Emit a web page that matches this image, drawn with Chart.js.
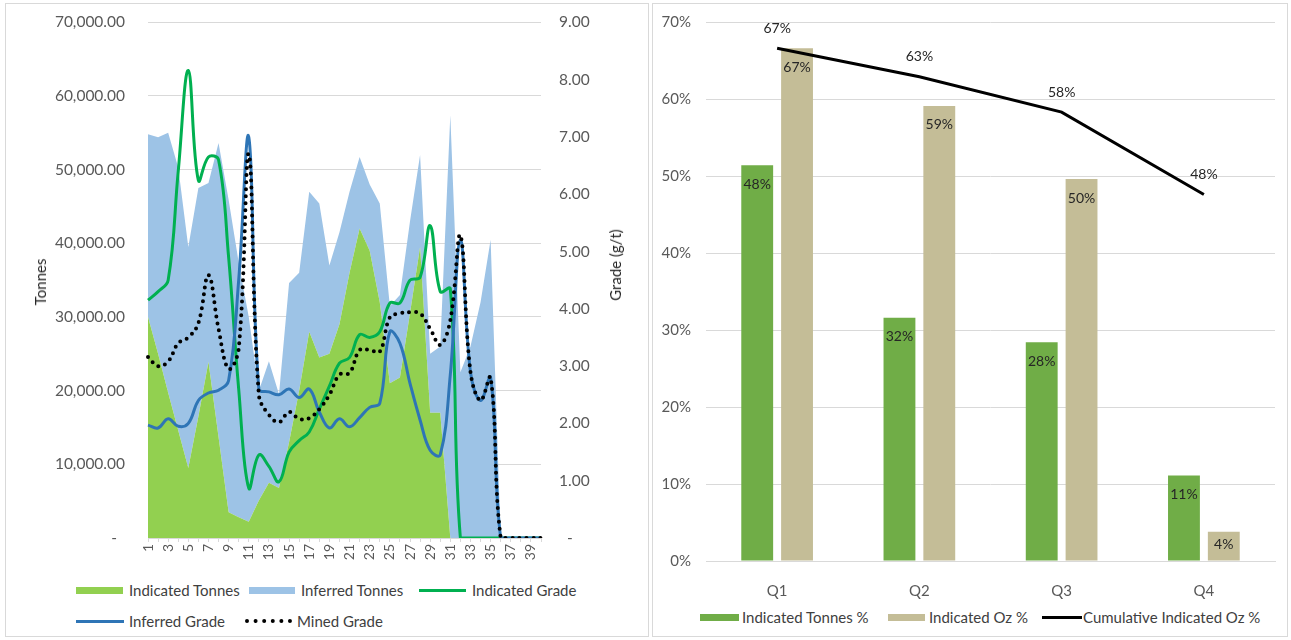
<!DOCTYPE html>
<html>
<head>
<meta charset="utf-8">
<script src="https://cdn.jsdelivr.net/npm/chart.js@4.4.1/dist/chart.umd.min.js"></script>
<style>
  body { margin: 0; background: #fff; font-family: Lato, sans-serif; overflow: hidden; }
  .panel { position: absolute; top: 3px; height: 634px; border: 1px solid #d9d9d9; box-sizing: border-box; background: #fff; }
  canvas { position: absolute; }
  .axis-title { position: absolute; font-size: 15px; color: #262626; white-space: nowrap; transform: translate(-50%, -50%) rotate(-90deg); }
  .leg { position: absolute; font-size: 15px; color: #404040; white-space: nowrap; line-height: 18px; }
  .sw { position: absolute; }
</style>
</head>
<body>
<div class="panel" style="left:5px; width:644px;"></div>
<div class="panel" style="left:652px; width:636px;"></div>

<!-- canvases start above the panels so the plot tops land where the reference has them -->
<canvas id="leftChart" style="left:5px; top:-10px; width:643px; height:583px;" width="643" height="583"></canvas>
<canvas id="rightChart" style="left:652px; top:-2px; width:636px; height:605px;" width="636" height="605"></canvas>

<div class="axis-title" style="left:40px; top:282px;">Tonnes</div>
<div class="axis-title" style="left:615px; top:265px;">Grade (g/t)</div>

<!-- left legend -->
<div class="sw" style="left:76px; top:587px; width:47px; height:7px; background:#92D050;"></div>
<div class="leg" style="left:129px; top:581px;">Indicated Tonnes</div>
<div class="sw" style="left:249px; top:587px; width:46px; height:7px; background:#9DC3E6;"></div>
<div class="leg" style="left:301px; top:581px;">Inferred Tonnes</div>
<div class="sw" style="left:419px; top:589px; width:47px; height:3px; background:#00B050;"></div>
<div class="leg" style="left:472px; top:581px;">Indicated Grade</div>
<div class="sw" style="left:76px; top:620px; width:48px; height:3px; background:#2E75B6;"></div>
<div class="leg" style="left:129px; top:612px;">Inferred Grade</div>
<div class="sw" style="left:245px; top:619px; width:47px; height:0; border-top:4px dotted #000;"></div>
<div class="leg" style="left:297px; top:612px;">Mined Grade</div>

<!-- right legend -->
<div class="sw" style="left:700px; top:614px; width:39px; height:7px; background:#70AD47;"></div>
<div class="leg" style="left:742px; top:608px;">Indicated Tonnes %</div>
<div class="sw" style="left:888px; top:614px; width:37px; height:7px; background:#C4BD97;"></div>
<div class="leg" style="left:929px; top:608px;">Indicated Oz %</div>
<div class="sw" style="left:1042px; top:616px; width:40px; height:3px; background:#000;"></div>
<div class="leg" style="left:1083px; top:608px;">Cumulative Indicated Oz %</div>

<script>
// ---- left chart data (tonnes and grade by period) ----
const periods = ['1','2','3','4','5','6','7','8','9','10','11','12','13','14','15','16','17','18','19','20',
                 '21','22','23','24','25','26','27','28','29','30','31','32','33','34','35','36','37','38','39','40'];

const indicatedTonnes = [30000, 25000, 19700, 14600, 9500, 16500, 23900, 13700, 3500, 2800,
                         2200, 5100, 7500, 6800, 13000, 20000, 28000, 24500, 25000, 29000,
                         36000, 42000, 39000, 32000, 21000, 21800, 30500, 39500, 17000, 17000,
                         0, 0, 0, 0, 0, 0, 0, 0, 0, 0];

const inferredTonnes = [24800, 29400, 35300, 35700, 30000, 31000, 24300, 39900, 42400, 34600,
                        27800, 14900, 16500, 12700, 21600, 16000, 19000, 20900, 12000, 12500,
                        11000, 9700, 9000, 13400, 10500, 11200, 12500, 12500, 8000, 9000,
                        57400, 22500, 26000, 32000, 40500, 0, 0, 0, 0, 0];

const indicatedGrade = [4.15, 4.3, 4.5, 6.4, 8.16, 6.24, 6.65, 6.6, 4.9, 2.6,
                        0.87, 1.45, 1.25, 0.98, 1.5, 1.7, 1.85, 2.25, 2.65, 3.05,
                        3.15, 3.55, 3.5, 3.6, 4.1, 4.1, 4.5, 4.55, 5.45, 4.3,
                        4.35, 0, 0, 0, 0, 0, 0, 0, 0, 0];

const inferredGrade = [1.97, 1.92, 2.08, 1.95, 2.0, 2.4, 2.53, 2.58, 2.75, 4.5,
                       7.0, 2.6, 2.55, 2.5, 2.6, 2.45, 2.6, 2.2, 1.92, 2.08,
                       1.94, 2.1, 2.28, 2.35, 3.6, 3.4, 2.7, 2.06, 1.53, 1.45,
                       2.85, 5.2, 2.9, 2.4, 2.8, 0, 0, 0, 0, 0];

const minedGrade = [3.16, 3.0, 3.08, 3.4, 3.5, 3.75, 4.59, 3.65, 2.95, 3.3,
                    6.7, 2.5, 2.15, 2.02, 2.2, 2.08, 2.09, 2.25, 2.5, 2.85,
                    2.88, 3.28, 3.28, 3.25, 3.85, 3.92, 3.94, 3.92, 3.65, 3.37,
                    3.8, 5.28, 2.9, 2.4, 2.8, 0, 0, 0, 0, 0];

// ---- right chart data (percent by quarter) ----
const quarters = ['Q1', 'Q2', 'Q3', 'Q4'];
const indicatedTonnesPct = [51.4, 31.6, 28.4, 11.1];
const indicatedTonnesText = ['48%', '32%', '28%', '11%'];
const indicatedOzPct = [66.6, 59.1, 49.6, 3.8];
const cumulativeOzPct = [66.6, 62.9, 58.3, 47.6];

Chart.defaults.font.family = 'Lato';
Chart.defaults.color = '#595959';
Chart.defaults.animation = false;

const leftTickFont = { family: 'Lato', size: 15.5 };
const rightTickFont = { family: 'Lato', size: 15 };

new Chart(document.getElementById('leftChart'), {
    type: 'line',
    data: {
        labels: periods,
        datasets: [
            { label: 'Mined Grade', data: minedGrade, yAxisID: 'y1', borderColor: '#000', borderWidth: 4,
              borderDash: [0, 7], borderCapStyle: 'round', pointRadius: 0, tension: 0.4, fill: false, order: 0 },
            { label: 'Inferred Grade', data: inferredGrade, yAxisID: 'y1', borderColor: '#2E75B6', borderWidth: 3,
              pointRadius: 0, tension: 0.4, fill: false, order: 1 },
            { label: 'Indicated Grade', data: indicatedGrade, yAxisID: 'y1', borderColor: '#00B050', borderWidth: 3,
              pointRadius: 0, tension: 0.4, fill: false, order: 2 },
            { label: 'Indicated Tonnes', data: indicatedTonnes, yAxisID: 'y', backgroundColor: '#92D050',
              borderColor: 'rgba(0,0,0,0)', borderWidth: 0, pointRadius: 0, tension: 0, fill: 'origin', order: 3 },
            { label: 'Inferred Tonnes', data: inferredTonnes, yAxisID: 'y', backgroundColor: '#9DC3E6',
              borderColor: 'rgba(0,0,0,0)', borderWidth: 0, pointRadius: 0, tension: 0, fill: '-1', order: 4 }
        ]
    },
    options: {
        responsive: false,
        layout: { padding: 0 },
        plugins: { legend: { display: false }, tooltip: { enabled: false } },
        scales: {
            x: {
                grid: { drawOnChartArea: false, drawTicks: true, tickLength: 4, color: '#d9d9d9' },
                border: { color: '#d9d9d9' },
                ticks: {
                    autoSkip: false, maxRotation: 90, minRotation: 90, padding: 2,
                    font: { family: 'Lato', size: 14 },
                    callback: (v, i) => (i % 2 === 0 ? periods[i] : '')
                },
                afterFit: s => { s.height = 35; }
            },
            y: {
                stacked: true, min: 0, max: 70000,
                grid: { color: '#d9d9d9', drawTicks: false },
                border: { display: false },
                ticks: {
                    stepSize: 10000, padding: 23, font: leftTickFont,
                    callback: v => (v === 0 ? '-  ' : v.toLocaleString('en-US', { minimumFractionDigits: 2 }))
                },
                afterFit: s => { s.width = 143; }
            },
            y1: {
                position: 'right', min: 0, max: 9,
                grid: { drawOnChartArea: false, drawTicks: false },
                border: { display: false },
                ticks: {
                    stepSize: 1, padding: 18, font: leftTickFont,
                    callback: v => (v === 0 ? '  -' : v.toFixed(2))
                },
                afterFit: s => { s.width = 107; }
            }
        }
    }
});

// data labels for the right chart
const valueLabels = {
    id: 'valueLabels',
    afterDatasetsDraw(chart) {
        const ctx = chart.ctx;
        ctx.save();
        ctx.font = '14px Lato';
        ctx.fillStyle = '#262626';
        ctx.textAlign = 'center';
        ctx.textBaseline = 'middle';
        chart.data.datasets.forEach((ds, di) => {
            const meta = chart.getDatasetMeta(di);
            meta.data.forEach((el, i) => {
                const text = ds.labelText ? ds.labelText[i] : Math.round(ds.data[i]) + '%';
                let y;
                if (meta.type === 'line') {
                    y = el.y - 20;
                } else {
                    y = Math.min(el.y + 19, (el.y + el.base) / 2 - 2);
                }
                ctx.fillText(text, el.x, y);
            });
        });
        ctx.restore();
    }
};

new Chart(document.getElementById('rightChart'), {
    type: 'bar',
    data: {
        labels: quarters,
        datasets: [
            { type: 'line', label: 'Cumulative Indicated Oz %', data: cumulativeOzPct, borderColor: '#000',
              borderWidth: 3, pointRadius: 0, tension: 0, order: 0 },
            { label: 'Indicated Tonnes %', data: indicatedTonnesPct, labelText: indicatedTonnesText,
              backgroundColor: '#70AD47', order: 1, barPercentage: 0.8, categoryPercentage: 0.56 },
            { label: 'Indicated Oz %', data: indicatedOzPct, backgroundColor: '#C4BD97', order: 2,
              barPercentage: 0.8, categoryPercentage: 0.56 }
        ]
    },
    options: {
        responsive: false,
        layout: { padding: { top: 0, right: 13, left: 0, bottom: 0 } },
        plugins: { legend: { display: false }, tooltip: { enabled: false } },
        scales: {
            x: {
                grid: { display: false },
                border: { color: '#d9d9d9' },
                ticks: { padding: 13, font: rightTickFont },
                afterFit: s => { s.height = 42; }
            },
            y: {
                min: 0, max: 70,
                grid: { color: '#d9d9d9', drawTicks: false },
                border: { display: false },
                ticks: { stepSize: 10, padding: 15, font: rightTickFont, callback: v => v + '%' },
                afterFit: s => { s.width = 54; }
            }
        }
    },
    plugins: [valueLabels]
});
</script>
</body>
</html>
